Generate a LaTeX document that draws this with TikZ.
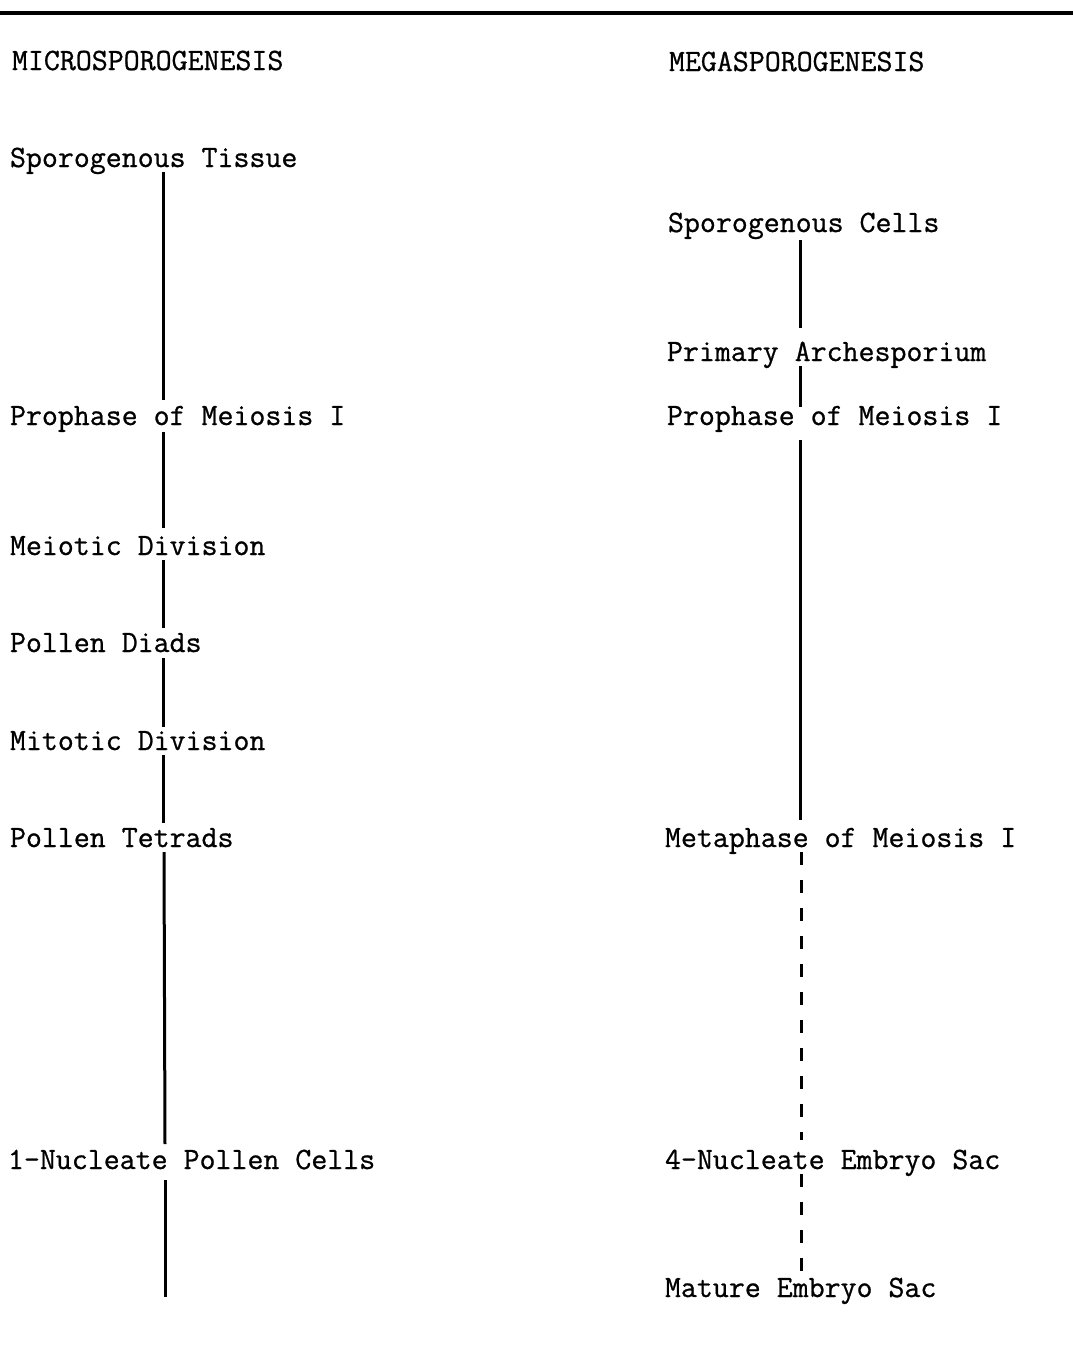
\documentclass[tikz,border=0pt]{standalone}
\usepackage{fontspec}
\newfontfamily\twfont{Latin Modern Mono}[FakeBold=0.8]
\usetikzlibrary{calc}
\begin{document}
\begin{tikzpicture}[x=1pt,y=-1pt,
  lbl/.style={anchor=base west,inner sep=0pt,outer sep=0pt,text height=25pt,text depth=5pt,
    font=\fontsize{31}{36}\selectfont\twfont},
  conn/.style={line width=3pt},
  dconn/.style={line width=3pt,dash pattern=on 13pt off 15pt}]
\useasboundingbox (0,0) rectangle (1073,1360);
\draw[line width=3.5pt] (0,13) -- (1073,13);
% left column
\node[lbl] (mic) at (12,70) {MICROSPOROGENESIS};
\node[lbl] (l1) at (10,167) {Sporogenous Tissue};
\node[lbl] (l2) at (10,425) {Prophase of Meiosis I};
\node[lbl] (l3) at (10,555) {Meiotic Division};
\node[lbl] (l4) at (10,652) {Pollen Diads};
\node[lbl] (l5) at (10,750) {Mitotic Division};
\node[lbl] (l6) at (10,847) {Pollen Tetrads};
\node[lbl] (l7) at (8,1169) {1-Nucleate Pollen Cells};
\coordinate (lx) at (163,0);
\coordinate (lend) at (165,1297);
% right column
\node[lbl] (meg) at (669,71) {MEGASPOROGENESIS};
\node[lbl] (r1) at (668,232) {Sporogenous Cells};
\node[lbl] (r2) at (667,361) {Primary Archesporium};
\node[lbl] (r3) at (667,425) {Prophase of Meiosis I};
\node[lbl] (r4) at (665,847) {Metaphase of Meiosis I};
\node[lbl] (r5) at (665,1169) {4-Nucleate Embryo Sac};
\node[lbl] (r6) at (665,1297) {Mature Embryo Sac};
\coordinate (rx) at (800,0);
% left connectors
\draw[conn] (lx |- l1.south) -- (lx |- l2.north);
\draw[conn] ([yshift=-2pt]lx |- l2.south) -- ([yshift=2pt]lx |- l3.north);
\draw[conn] (lx |- l3.south) -- ([yshift=-1pt]lx |- l4.north);
\draw[conn] ([yshift=-1pt]lx |- l4.south) -- ([yshift=-2pt]lx |- l5.north);
\draw[conn] (lx |- l5.south) -- ([yshift=-1pt]lx |- l6.north);
\draw[conn] ([xshift=1pt]lx |- l6.south) -- ([xshift=2pt]lx |- l7.north);
\draw[conn] ([xshift=2pt,yshift=-6pt]lx |- l7.south) -- (lend);
% right connectors
\draw[conn] ([yshift=-3pt]rx |- r1.south) -- ([yshift=8pt]rx |- r2.north);
\draw[conn] (rx |- r2.south) -- ([yshift=-7pt]rx |- r3.north);
\draw[conn] ([yshift=-10pt]rx |- r3.south) -- ([yshift=2pt]rx |- r4.north);
\draw[dconn] ([xshift=1pt]rx |- r4.south) -- ([xshift=1pt,yshift=4pt]rx |- r5.north);
\draw[dconn] ([xshift=1pt]rx |- r5.south) -- ([xshift=1pt]rx |- r6.north);
\end{tikzpicture}
\end{document}
